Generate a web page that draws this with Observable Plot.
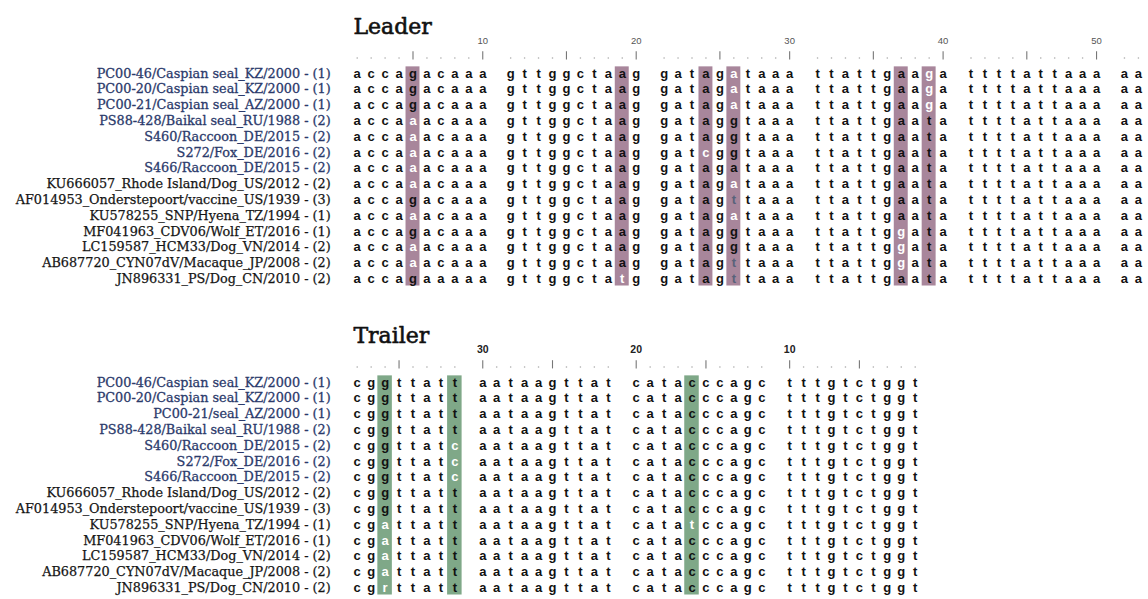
<!DOCTYPE html>
<html><head><meta charset="utf-8">
<script src="https://cdn.jsdelivr.net/npm/d3@7"></script>
<script src="https://cdn.jsdelivr.net/npm/@observablehq/plot@0.6"></script>
<style>body{margin:0;background:#fff} svg{display:block}</style>
</head><body><div id="chart"></div>
<script>
// ---------- data ----------
const panelTitles = ["Leader", "Trailer"];

const leaderStrains = [
  "PC00-46/Caspian seal_KZ/2000 - (1)",
  "PC00-20/Caspian seal_KZ/2000 - (1)",
  "PC00-21/Caspian seal_AZ/2000 - (1)",
  "PS88-428/Baikal seal_RU/1988 - (2)",
  "S460/Raccoon_DE/2015 - (2)",
  "S272/Fox_DE/2016 - (2)",
  "S466/Raccoon_DE/2015 - (2)",
  "KU666057_Rhode Island/Dog_US/2012 - (2)",
  "AF014953_Onderstepoort/vaccine_US/1939 - (3)",
  "KU578255_SNP/Hyena_TZ/1994 - (1)",
  "MF041963_CDV06/Wolf_ET/2016 - (1)",
  "LC159587_HCM33/Dog_VN/2014 - (2)",
  "AB687720_CYN07dV/Macaque_JP/2008 - (2)",
  "JN896331_PS/Dog_CN/2010 - (2)"
];
const trailerStrains = [
  "PC00-46/Caspian seal_KZ/2000 - (1)",
  "PC00-20/Caspian seal_KZ/2000 - (1)",
  "PC00-21/seal_AZ/2000 - (1)",
  "PS88-428/Baikal seal_RU/1988 - (2)",
  "S460/Raccoon_DE/2015 - (2)",
  "S272/Fox_DE/2016 - (2)",
  "S466/Raccoon_DE/2015 - (2)",
  "KU666057_Rhode Island/Dog_US/2012 - (2)",
  "AF014953_Onderstepoort/vaccine_US/1939 - (3)",
  "KU578255_SNP/Hyena_TZ/1994 - (1)",
  "MF041963_CDV06/Wolf_ET/2016 - (1)",
  "LC159587_HCM33/Dog_VN/2014 - (2)",
  "AB687720_CYN07dV/Macaque_JP/2008 - (2)",
  "JN896331_PS/Dog_CN/2010 - (2)"
];
// strains sequenced in this study (shown in blue)
const studyStrain = [true, true, true, true, true, true, true, false, false, false, false, false, false, false];

// leader positions 1..52
const leaderSeqs = [
  "accagacaaa" + "gttggctaag" + "gatagataaa" + "ttattgaaga" + "ttttattaaa" + "aa",
  "accagacaaa" + "gttggctaag" + "gatagataaa" + "ttattgaaga" + "ttttattaaa" + "aa",
  "accagacaaa" + "gttggctaag" + "gatagataaa" + "ttattgaaga" + "ttttattaaa" + "aa",
  "accaaacaaa" + "gttggctaag" + "gataggtaaa" + "ttattgaata" + "ttttattaaa" + "aa",
  "accaaacaaa" + "gttggctaag" + "gataggtaaa" + "ttattgaata" + "ttttattaaa" + "aa",
  "accaaacaaa" + "gttggctaag" + "gatcggtaaa" + "ttattgaata" + "ttttattaaa" + "aa",
  "accaaacaaa" + "gttggctaag" + "gatagataaa" + "ttattgaata" + "ttttattaaa" + "aa",
  "accaaacaaa" + "gttggctaag" + "gatagataaa" + "ttattgaata" + "ttttattaaa" + "aa",
  "accagacaaa" + "gttggctaag" + "gatagttaaa" + "ttattgaata" + "ttttattaaa" + "aa",
  "accaaacaaa" + "gttggctaag" + "gatagataaa" + "ttattgaata" + "ttttattaaa" + "aa",
  "accagacaaa" + "gttggctaag" + "gataggtaaa" + "ttattggata" + "ttttattaaa" + "aa",
  "accaaacaaa" + "gttggctaag" + "gataggtaaa" + "ttattggata" + "ttttattaaa" + "aa",
  "accaaacaaa" + "gttggctaag" + "gatagttaaa" + "ttattggata" + "ttttattaaa" + "aa",
  "accagaaaaa" + "gttggctatg" + "gatagttaaa" + "ttattgaata" + "ttttattaaa" + "aa"
];
const leaderVariablePositions = [5, 19, 24, 26, 37, 39];
// allele class at each variable position: B = reference allele, W = alternative, G = third allele
const leaderAlleleClass = [
  "BBBWBW", "BBBWBW", "BBBWBW", "WBBBBB", "WBBBBB", "WBWBBB", "WBBBBB",
  "WBBWBB", "BBBGBB", "WBBWBB", "BBBBWB", "WBBBWB", "WBBGWB", "BWBGBB"
];
const leaderTickLabels = [10, 20, 30, 40, 50];

// trailer positions numbered 38..1 (3' end)
const trailerSeqs = [
  "cggttatt" + "aataagttat" + "catacccagc" + "tttgtctggt",
  "cggttatt" + "aataagttat" + "catacccagc" + "tttgtctggt",
  "cggttatt" + "aataagttat" + "catacccagc" + "tttgtctggt",
  "cggttatt" + "aataagttat" + "catacccagc" + "tttgtctggt",
  "cggttatc" + "aataagttat" + "catacccagc" + "tttgtctggt",
  "cggttatc" + "aataagttat" + "catacccagc" + "tttgtctggt",
  "cggttatc" + "aataagttat" + "catacccagc" + "tttgtctggt",
  "cggttatt" + "aataagttat" + "catacccagc" + "tttgtctggt",
  "cggttatt" + "aataagttat" + "catacccagc" + "tttgtctggt",
  "cgattatt" + "aataagttat" + "catatccagc" + "tttgtctggt",
  "cgattatt" + "aataagttat" + "catacccagc" + "tttgtctggt",
  "cgattatt" + "aataagttat" + "catacccagc" + "tttgtctggt",
  "cgattatt" + "aataagttat" + "catacccagc" + "tttgtctggt",
  "cgrttatt" + "aataagttat" + "catacccagc" + "tttgtctggt"
];
const trailerVariablePositions = [36, 31, 16];
const trailerAlleleClass = [
  "BBB", "BBB", "BBB", "BBB", "BWB", "BWB", "BWB",
  "BBB", "BBB", "WBW", "WBB", "WBB", "WBB", "WBB"
];
const trailerTickLabels = [30, 20, 10];

// ---------- layout ----------
const W = 1148, H = 599;
const COLW = 13.95, ROWH = 15.8, X0 = 356.7;
const NCOL = 56;
const leaderCol = p => (p - 1) + Math.floor((p - 1) / 10);
const TLEN = 38;
const trailerCol = n => (TLEN - n) + (3 - Math.floor((n - 1) / 10));

const panels = [
  {title: panelTitles[0], names: leaderStrains, seqs: leaderSeqs, varPos: leaderVariablePositions,
   cls: leaderAlleleClass, ticks: leaderTickLabels, num: k => k + 1, col: leaderCol,
   base: 73 / ROWH, hl: "#a8869b", tickBold: false},
  {title: panelTitles[1], names: trailerStrains, seqs: trailerSeqs, varPos: trailerVariablePositions,
   cls: trailerAlleleClass, ticks: trailerTickLabels, num: k => TLEN - k, col: trailerCol,
   base: 382 / ROWH, hl: "#7fa888", tickBold: true}
];

const cells = [], highlights = [], bars = [], dots = [], ticks = [], labels = [], titles = [];
panels.forEach((P, pi) => {
  titles.push({x: -0.27, y: P.base - 2.95, text: P.title});
  P.varPos.forEach(v => highlights.push({x: P.col(v), y1: P.base - 0.42, y2: P.base + 13.45, panel: pi}));
  const len = P.seqs[0].length;
  for (let k = 0; k < len; k++) {
    const n = P.num(k), c = P.col(n);
    if (n % 5 === 0) bars.push({x: c, y1: P.base - 1.38, y2: P.base - 0.86});
    else dots.push({x: c, y: P.base - 0.98});
  }
  P.ticks.forEach(t => ticks.push({x: P.col(t), y: P.base - 2.06, text: String(t), bold: P.tickBold}));
  P.seqs.forEach((s, i) => {
    labels.push({x: -1.9, y: P.base + i, text: P.names[i], study: studyStrain[i]});
    for (let k = 0; k < s.length; k++) {
      const n = P.num(k);
      const j = P.varPos.indexOf(n);
      cells.push({x: P.col(n), y: P.base + i, ch: s[k], cls: j >= 0 ? P.cls[i][j] : "B"});
    }
  });
});

const seqFont = "Liberation Sans, Arial, sans-serif";
const serif = "DejaVu Serif, serif";

const chart = Plot.plot({
  width: W, height: H, margin: 0,
  x: {domain: [0, NCOL], range: [X0, X0 + NCOL * COLW], axis: null},
  y: {domain: [0, H / ROWH], range: [0, H], axis: null},
  style: {background: "#fff"},
  marks: [
    Plot.rect(highlights.filter(d => d.panel === 0), {x1: d => d.x - 0.5, x2: d => d.x + 0.5, y1: "y1", y2: "y2", fill: panels[0].hl}),
    Plot.rect(highlights.filter(d => d.panel === 1), {x1: d => d.x - 0.52, x2: d => d.x + 0.52, y1: "y1", y2: "y2", fill: panels[1].hl}),
    Plot.ruleX(bars, {x: "x", y1: "y1", y2: "y2", stroke: "#777", strokeWidth: 1.1}),
    Plot.dot(dots, {x: "x", y: "y", r: 0.8, fill: "#aaa", stroke: null}),
    Plot.text(ticks.filter(d => !d.bold), {x: "x", y: "y", text: "text", fontSize: 9.5, fill: "#555", fontFamily: seqFont}),
    Plot.text(ticks.filter(d => d.bold), {x: "x", y: "y", text: "text", fontSize: 10.5, fontWeight: "bold", fill: "#222", fontFamily: seqFont}),
    Plot.text(cells.filter(d => d.cls === "B"), {x: "x", y: "y", text: "ch", fontSize: 13, fontWeight: "bold", fill: "#111", fontFamily: seqFont}),
    Plot.text(cells.filter(d => d.cls === "W"), {x: "x", y: "y", text: "ch", fontSize: 13, fontWeight: "bold", fill: "#fff", fontFamily: seqFont}),
    Plot.text(cells.filter(d => d.cls === "G"), {x: "x", y: "y", text: "ch", fontSize: 13, fontWeight: "bold", fill: "#59627a", fontFamily: seqFont}),
    Plot.text(labels.filter(d => d.study), {x: "x", y: "y", text: "text", textAnchor: "end", fontSize: 12.8, fill: "#2b3a6b", stroke: "#2b3a6b", strokeWidth: 0.3, fontFamily: serif}),
    Plot.text(labels.filter(d => !d.study), {x: "x", y: "y", text: "text", textAnchor: "end", fontSize: 12.8, fill: "#151515", stroke: "#151515", strokeWidth: 0.25, fontFamily: serif}),
    Plot.text(titles, {x: "x", y: "y", text: "text", textAnchor: "start", fontSize: 22, fill: "#111", stroke: "#111", strokeWidth: 0.6, fontFamily: serif})
  ]
});
document.getElementById("chart").append(chart);
</script>
</body></html>
